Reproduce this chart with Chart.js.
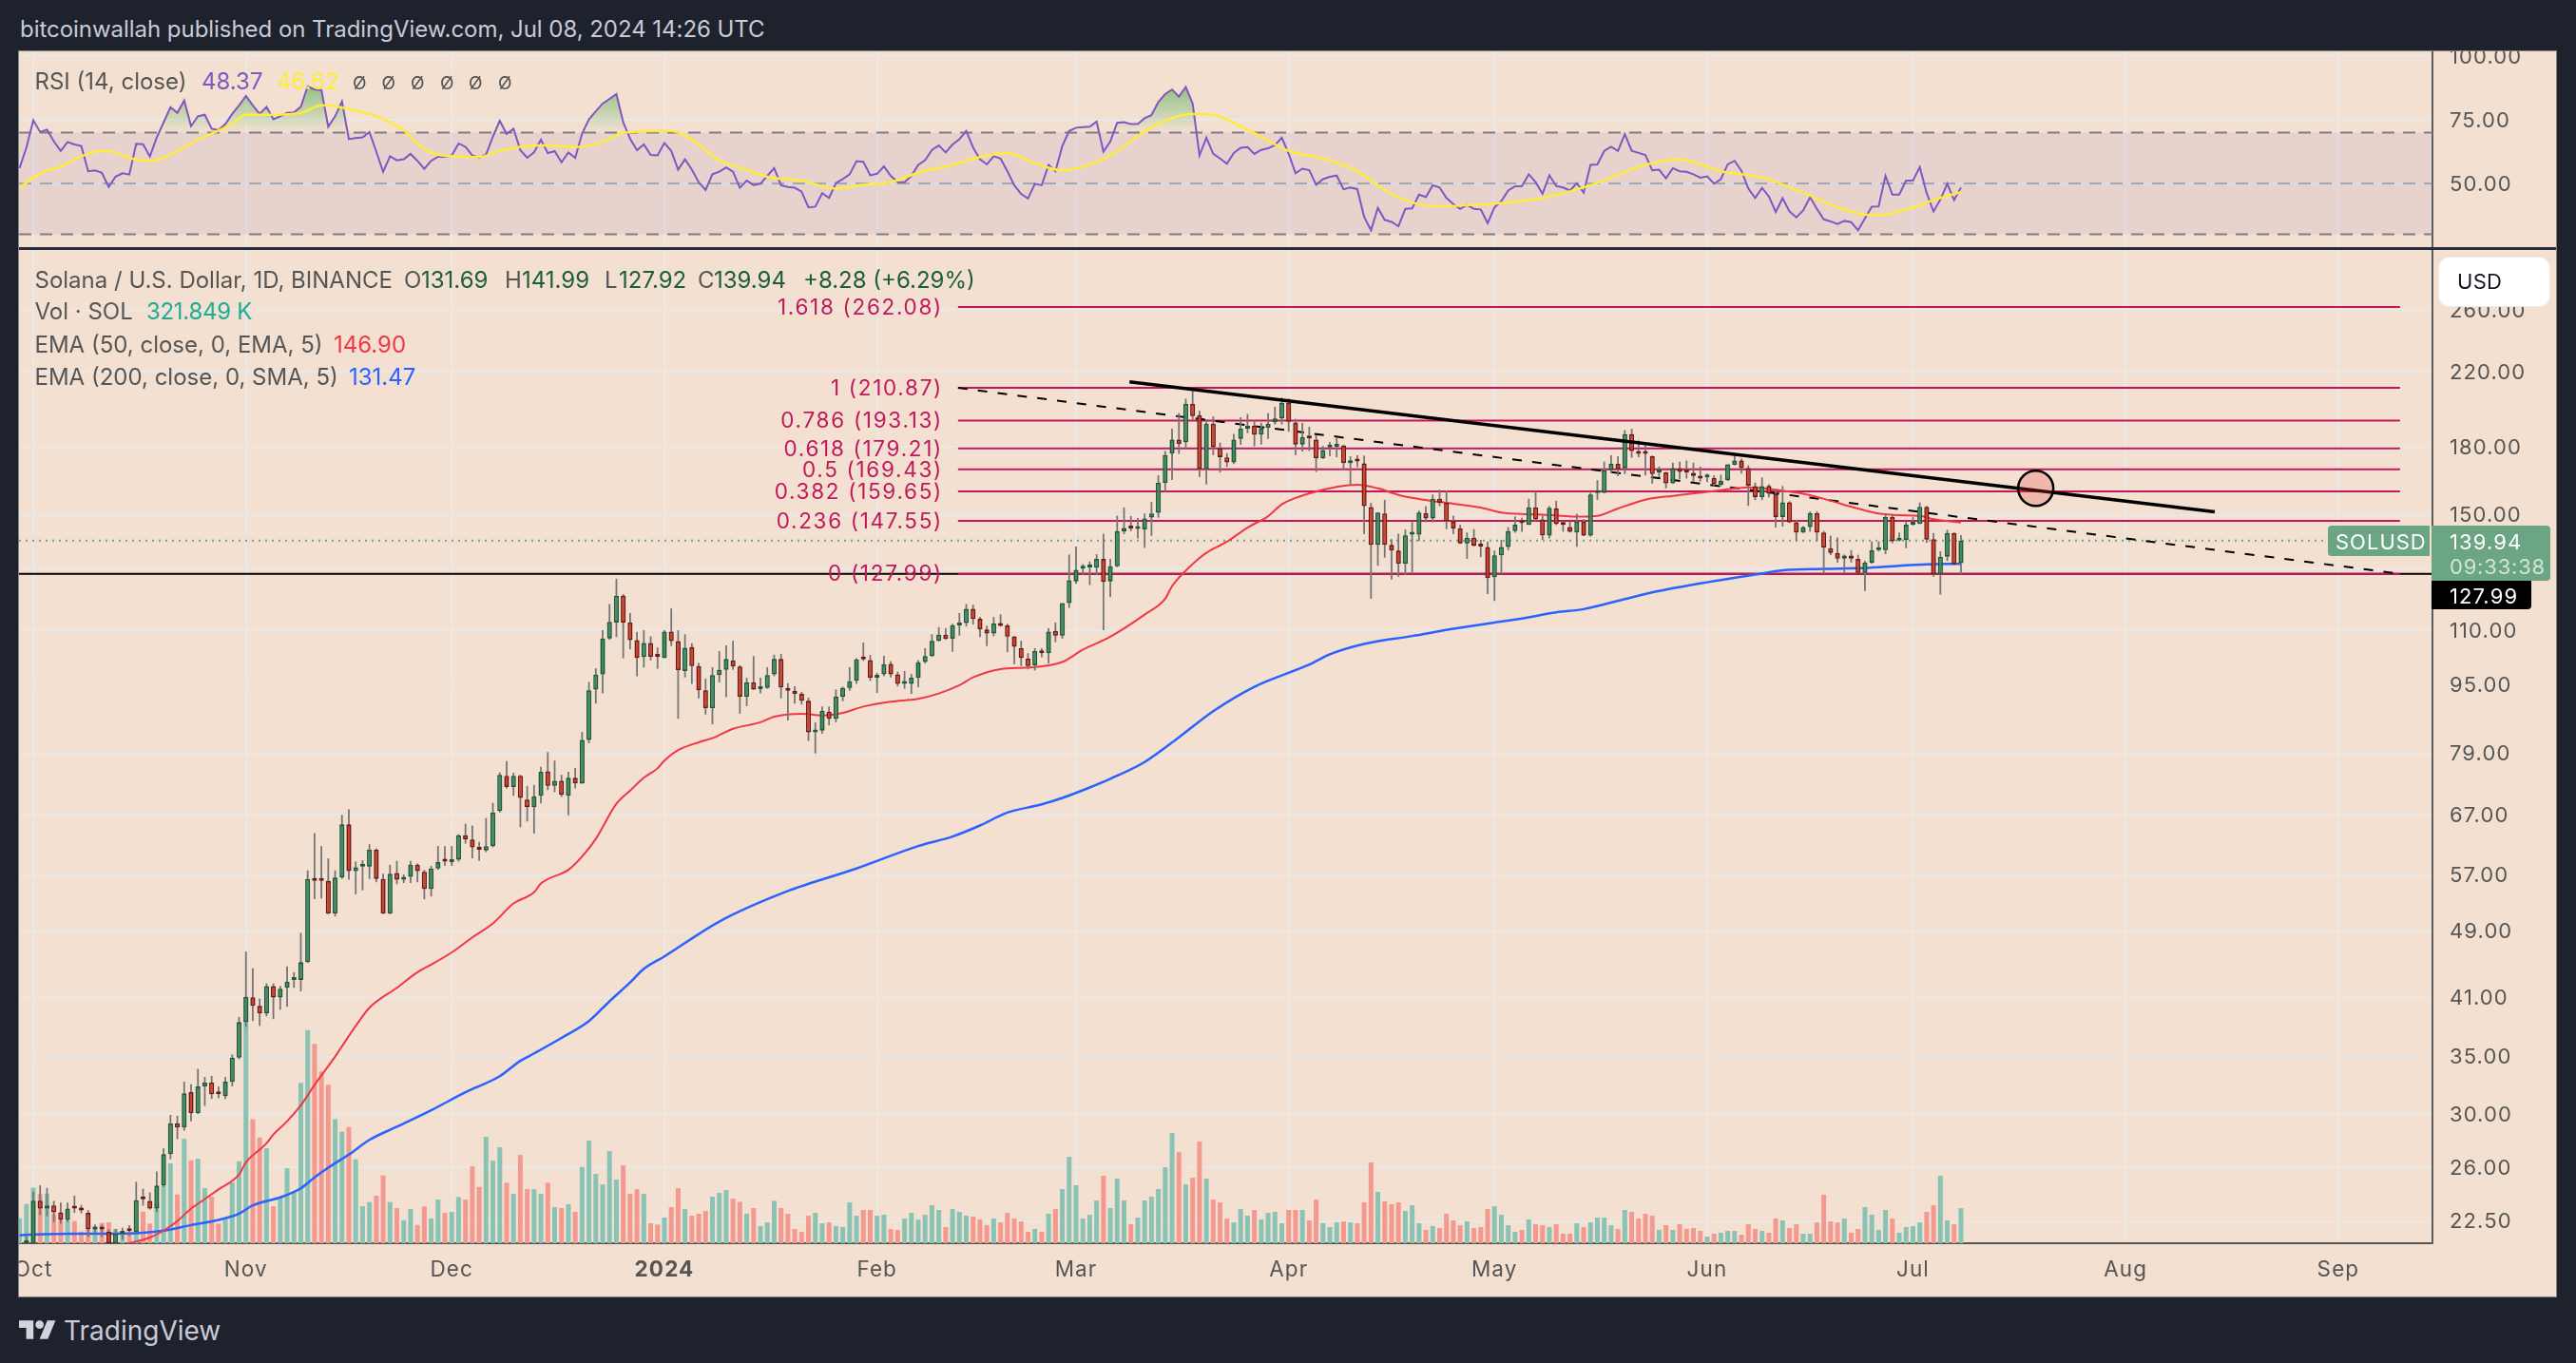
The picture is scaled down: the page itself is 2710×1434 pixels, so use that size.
<!DOCTYPE html>
<html><head><meta charset="utf-8">
<script src="https://cdn.jsdelivr.net/npm/chart.js@4"></script>
<style>
html,body{margin:0;padding:0;background:#1e222d;width:2710px;height:1434px;overflow:hidden}
#panel{position:absolute;left:20px;top:54px;width:2669px;height:1310px;background:#f3e0d0}
#frame{position:absolute;left:19px;top:53px;width:2669px;height:1310px;border:1px solid #85837f;pointer-events:none}
canvas{position:absolute;left:20px}
#sep{position:absolute;left:20px;top:260px;width:2669px;height:3px;background:#2a2e39}
.t{position:absolute;white-space:pre;transform:translateY(-50%);font-family:Inter,sans-serif;line-height:1}
.box{position:absolute}
</style></head><body>
<div id="panel"></div>
<canvas id="rsiChart" width="2669" height="208" style="top:54px;width:2669px;height:208px"></canvas>
<canvas id="mainChart" width="2669" height="1101" style="top:263px;width:2669px;height:1101px"></canvas>
<div id="sep"></div><div id="frame"></div>
<div id="overlay"></div>
<script>
// Day index 0 = 1 Oct 2023; first candle sits two days earlier.
const firstDay = -2;
const monthDays = [0,31,61,92,123,152,183,213,244,274,305,336];
const monthLabels = ['Oct','Nov','Dec','2024','Feb','Mar','Apr','May','Jun','Jul','Aug','Sep'];
const priceTicks = [260,220,180,150,130,110,95,79,67,57,49,41,35,30,26,22.5];
const rsiTicks = [100,75,50];
const fibRatios = ['1.618','1','0.786','0.618','0.5','0.382','0.236','0'];
const fibValues = [262.08,210.87,193.13,179.21,169.43,159.65,147.55,127.99];
const opens = [
20.5,21.15,21.2,23.77,23.27,23.47,23.04,22.57,23.36,23.2,
23,22,22.08,21.86,21.2,21.75,21.98,21.84,23.95,23.75,
23.27,24.75,26.93,29.25,28.92,31.82,30.05,32.3,32.64,31.75,
31.47,32.7,34.9,38.4,41.05,40.1,39.3,42.3,41,42.1,
43,43,45.1,56.4,56.2,56.1,51.4,56.6,65.3,57.6,
58.3,58.3,61,56.4,51.4,57.3,56.3,56.7,58.6,57.5,
54.9,58,59.2,59,59.4,63.4,62.7,61.2,60.9,61.6,
67.7,74.4,72.2,74.4,69.8,68.4,70.5,75.3,72.4,73.4,
70.5,74,72.9,81.9,93.8,97.7,107.6,112.3,120.7,112.3,
107.1,102.4,106.3,102.6,102.1,109.6,106.8,98.6,105.1,99.9,
93.6,89.2,97.5,98.9,101.4,99.8,92,95.6,93.9,94.2,
97.7,101.8,94.2,93.5,92.7,91,83.6,84,88.4,86.7,
92,94.2,96,102,101.5,96.8,97.7,100.5,97.7,95.2,
95.2,96.8,101,102.6,106.9,108.7,107.5,111.4,112.1,116.5,
113.4,110.2,109,111.9,111.4,108.2,104.8,101.9,100.1,104.1,
103.4,109.8,108.4,118.3,125.4,129.8,130.2,130.1,133.2,125.4,
130.6,143.4,145.1,144.4,144.2,148.9,150.8,163.4,176.7,183.5,
182.2,202,195.9,169.6,191.6,179.4,175,172.6,183.9,189,
190.5,186,189.5,192.3,194.3,202.6,192.1,181.1,185,183.5,
174.6,179.7,180,180.6,172.3,173.6,172.2,153.1,138.3,150.5,
138.3,136.2,131.5,142.2,142.2,150.6,148.5,156.6,154.9,147.4,
144.6,138.9,141,138.2,137.5,126.8,134.5,137.5,143.5,147.1,
146,153,148.1,141.8,152.6,146.3,145.1,143,147.3,141.8,
159,159.1,169.1,172,169.9,186.2,178,176.9,175.5,168,
168,163.2,169.9,168.8,167.8,166.4,165.8,165.5,162.6,164.6,
171.5,173.5,170,161.9,157.3,162,158.7,149.1,155.1,147,
143,145.1,150.6,143,137.1,135.3,133.3,134.4,133.2,128.3,
131.9,136.4,136.4,149.1,139.9,140.2,146,146.3,153.2,140.5,
127.8,134,142.8,131.69];
const highs = [
21,21.7,24.35,24.77,24.6,23.75,23.65,23.65,24.09,23.5,
23.17,22.3,22.27,22,22.03,22.1,22.25,25,24.55,24.3,
25.7,27.36,29.93,29.85,32.72,32.5,33.86,33.14,33.23,32.3,
33.14,35.2,38.95,46.4,44.4,40.9,42.6,42.6,42.3,44.6,
43.9,48.8,57.7,63.8,61.6,59.6,57.7,67,68,59.1,
59.3,61.9,61.2,57.2,58.6,59.2,57.1,59.2,58.8,57.8,
58.4,61.6,61.6,61.6,63.6,65.4,65.1,62.3,66.4,69.2,
75.1,77.4,75,74.6,72.4,72.6,76.2,79.3,77.5,74.6,
75.2,76,83.7,95.7,99.3,110,118,126.3,121.2,115.2,
109.5,110,108.2,105,110,116.6,110,108.8,106.2,100.7,
96.6,99.6,104,105.6,106.9,100.1,96.8,102.6,96.8,99.6,
103,103.2,95.4,94.6,93.2,91.8,85.9,89.6,89.6,93.8,
94.5,99.6,102,106.4,102.9,98.1,102.7,101.2,98.4,98.6,
97.8,101.5,104.8,108.8,110.9,110.6,111.9,115.2,118,117.8,
114,111.3,114,114.8,111.9,108.2,106.9,103.4,104.8,104.8,
110.6,112.3,118.3,134.8,137.7,131.4,132.3,134.9,142.5,133.2,
149.6,153,149.5,148.7,150.5,155.2,166.8,178,189,197.1,
204.8,209.9,198.3,193.7,195.3,182,177,186.3,194.9,196.6,
193.1,192,197.1,200.5,205.5,205,194,192,190,185.6,
180.4,182.4,184.7,181,175.5,176,175.8,154.8,150.9,156.1,
140.5,142.5,144.2,147.4,151.7,153.5,158.4,160.4,160,149.6,
146,143,144.3,140.2,139.6,136.2,140.2,145.1,149.3,148.8,
156.6,159.7,149.6,153.5,155.7,147.5,147.3,150.4,148.2,159.1,
164.6,173,175.9,175.5,188.3,188.9,183.1,180.7,175.8,170.7,
168.3,172.5,173,173.5,172.5,170.7,167.5,166.7,167,171.7,
175.8,174.4,171.3,163.5,165.8,162.8,160.5,162,155.5,148,
145.5,151.3,151.4,143.6,141.8,141.1,134.8,136.4,134.7,132.5,
139.6,139.7,150.6,150,143,147.3,149.1,155,153.6,142.8,
135.9,144,143,141.99];
const lows = [
20.3,20.9,21,22.87,22.8,22.44,22.34,22.45,23,22.97,
21.56,21.7,21.56,21,21,21.4,21.62,21.8,23.45,23.2,
23.05,24.65,26.56,28.03,28.68,29.42,30,30.65,31.23,31.3,
31.23,32.3,34.75,37.9,38.5,38,39,38.7,39.7,40,
42.1,41.7,45,53.4,53.5,51.3,51,56.4,56.3,54.1,
54.7,56.4,55.9,51.3,51.3,55.6,55.8,55.8,55.9,53.4,
53.8,57.8,58.4,58.4,59.1,62,59.6,59.2,60.6,61.4,
67.4,71.9,70.5,64.8,65.8,63.7,69.1,71.6,71.2,70.3,
66.9,71.9,72.8,81.2,90.3,92.8,107.2,108,102,104.5,
97.2,99.5,101.4,99.2,102,105.4,86.7,96.9,95.2,91.6,
87.7,85.4,95.6,91.9,98.9,87.9,89.7,93.7,92.8,94,
97.2,91.6,86.3,90.3,90.1,81.7,79,83.3,85.2,85.9,
90.9,93.5,95.2,101.3,96,92.9,97.2,96.9,94.6,94,
92.7,94.4,100.6,102.4,106.7,107.2,103.8,108.4,111.1,111.7,
108,105.4,108.2,111.1,103.7,100.4,99.9,99,98.7,102.3,
100.6,106.5,107.5,116.8,124.6,127.6,124.2,127.5,110,120.2,
130.3,142.4,143.5,140.7,137.2,141.7,148.8,159.6,164.7,176.6,
178.7,193.7,166,162.7,176,168,170.6,171.9,180.9,186.7,
180.2,181.1,183.9,191.1,191.1,187.4,176.1,177.7,178,168.2,
174.2,175.5,175,169,162.5,170.4,142.4,119.7,130.8,133.7,
126,127,127.6,128.4,139.8,147,147,153.5,144.3,142.4,
138.7,133.2,137.7,133.8,121.2,119,127.9,136.3,142.9,143.3,
145.9,147.4,140.2,140.7,145.9,143.3,143,137.6,141.6,141.4,
156.1,158.9,167.6,166.4,167.3,174.8,175,166.7,163,165.9,
161,163,165,165.3,163.7,164,163.7,162,161.9,164.2,
171.3,167.5,153.6,156,156,157.2,144.9,145.3,146.7,139.7,
142.8,143.3,139.7,128,134.6,131.9,128.4,131.9,128.2,122.2,
131.5,135.9,134.9,138.9,139.7,137.1,145.7,146.3,139.1,127,
121,132.5,131.1,127.92];
const closes = [
20.8,21.25,23.77,23.27,23.47,23.04,22.57,23.27,23.27,23.15,
22,22.08,22,21.2,21.75,21.9,21.9,23.8,23.85,23.27,
24.75,26.93,29.25,28.92,31.71,30.05,32.3,32.64,31.63,31.63,
32.72,34.9,38.4,41.1,40.1,39.3,42.3,41,42,42.8,
43.1,45.1,56.4,56.1,56.1,51.4,56.6,65.3,57.6,58.2,
58.4,61,56.4,51.4,57.2,56.3,56.7,58.6,57.6,54.9,
58,59,59.1,59.4,63.4,62.7,61.4,61,61.6,67.4,
74.6,72.2,74.4,70.1,68.4,70.4,75.2,72.4,73.4,70.7,
74,72.9,81.9,93.6,97.6,107.6,112.5,120.7,112.3,107.1,
102.1,106.3,102.4,102.4,109.6,106.8,98.8,104.9,99.9,93.6,
89.2,97.5,98.9,101.8,99.8,92,95.6,93.8,94.2,97.5,
101.8,94.3,93.5,92.7,91,83.6,84,88.6,86.7,92,
94.2,95.9,101.7,101.7,96.8,97.5,100.4,97.7,95.2,95.4,
96.8,100.9,102.6,106.9,108.7,107.5,111.5,112.3,116.5,113.4,
110.2,109,112,111.3,108.1,105.2,102.1,99.9,104,103.4,
109.6,108.4,118.3,125.8,129.4,130,130.5,133.2,125.2,130.6,
143.5,144.7,144.6,144.6,148.5,150.5,163.4,176.1,183.5,181.4,
202,195.5,169.6,191.6,179.8,175.1,172.6,183.5,189,190.5,
186,189.3,191.6,194.2,202.6,192.5,181.1,184.7,184.1,174.6,
178.4,180,180.6,172.3,173.1,173.1,153.5,138.3,150.9,138.3,
136.2,131.5,141.9,142.7,150.9,148.5,156.6,154.9,147.4,144.6,
138.9,141,138.1,137.7,126.5,134.5,137.5,143.5,146,146.7,
153,148.1,141.9,152.8,146.3,145.9,143.3,147.3,141.8,158.4,
159.5,169.1,172,169.6,186.2,178,176.6,176.6,167.3,168.7,
163.2,170,168.3,168,166.4,165.3,166,162.8,164.3,171.7,
173.5,170,162.2,157.3,161.9,158.7,149.1,155.1,147,143,
145.1,150.6,143,137.3,135.4,133.3,134.4,133.3,128.3,131.9,
136.3,136.8,149.1,139.7,140.3,146,146.4,153.2,140.3,127.8,
134,142.8,131.3,139.94];
const volumesK = [
229,360,508,450,455,267,209,209,203,107,
122,151,186,194,131,93,99,116,290,180,
363,528,731,447,957,760,774,505,426,180,
223,557,751,2248,1137,969,870,339,418,687,
476,1470,1952,1827,1575,1453,1137,1021,1064,769,
339,377,435,621,377,322,212,313,168,336,
226,400,278,287,423,400,705,516,974,757,
879,554,452,809,496,496,452,554,331,322,
357,287,699,940,635,539,844,583,713,452,
496,452,183,171,235,331,505,313,252,270,
296,426,461,487,409,380,270,322,157,191,
389,322,270,131,104,252,278,183,191,157,
148,374,252,305,305,252,261,131,122,226,
278,218,261,348,305,148,313,287,252,244,
218,165,226,191,278,226,200,104,131,104,
270,313,496,792,531,226,261,392,618,322,
592,392,174,235,392,426,496,696,1009,835,
539,600,931,592,400,374,226,191,313,252,
305,218,278,287,183,305,305,305,209,400,
183,148,191,200,191,183,374,740,470,383,
357,374,296,348,183,122,157,139,270,209,
165,200,139,148,313,339,261,165,104,122,
218,174,165,148,174,87,87,183,148,191,
235,235,165,131,305,287,226,270,252,122,
165,122,174,131,139,113,61,87,96,113,
113,78,174,131,113,96,226,209,139,174,
87,87,191,444,200,191,226,96,131,331,
261,122,305,226,96,148,157,191,287,348,
618,209,174,321.849];
const rsiValues = [
56,64.1,74.8,70.2,71.1,66.5,62.8,66.3,65.3,64.7,
54.8,55.1,54.2,48.6,52.7,54,53.5,65.6,65.4,60.6,
68.1,74,79.9,77.7,82.6,72.5,76.4,77,71.5,70.9,
73.3,77.3,80.7,84.4,80.7,77.3,80.1,75.2,76.4,77.7,
77.9,80.1,88.1,86.9,86.7,72.3,76.4,82.2,67.4,67.8,
68.1,70.2,62.5,54.6,60.7,59.1,59.5,61.6,58.9,55.7,
58.9,60.5,60.5,61,65.7,64.4,61,60.1,61.4,68.4,
74.6,69.4,71.5,63.1,60.1,62.2,67.2,61.9,62.7,58.3,
62.2,60.1,69.6,75.2,78.3,81.4,83.2,85.1,74,67.5,
63.1,65.3,61.2,61,65.9,62.8,55.4,59.5,55.4,50.5,
47.4,53.6,54.6,56.3,54.6,48.3,51.1,49.4,49.9,53,
56,49.3,48.6,48.3,46.8,40.6,40.9,46.2,44.3,50.1,
51.7,53.6,58.8,58.5,53.2,53.8,56.7,53,50.5,50.5,
53,57.3,59.1,63.2,64.9,62.2,65.3,67.4,70.6,64.1,
59.5,57.5,60.7,59.8,54.8,49.3,45.9,44.1,49.9,49.3,
57.3,54.8,64.7,70.6,71.9,72.1,72.3,74.3,62.5,66.5,
73.8,74.1,73.3,73.3,75.6,76.8,82,85.1,86.9,84.1,
87.9,81.4,61,68,61.6,59.8,57.7,62,64,64.3,
61.6,63.2,63.8,65.1,68,61.6,54,55.8,55.2,49.5,
51.7,52.6,53.1,47.7,48.4,47.8,36.9,31.6,40.4,35.7,
34.9,33.2,40,40.2,45.6,44.7,49.3,48.4,44.3,41.9,
40,41.6,40,39.8,34.4,40.6,43.1,47.2,48.9,49,
53.6,50.5,45.9,53.2,49,48.4,47.2,50.1,46.4,57.3,
57.5,62.8,64.4,62.8,69.4,62.8,62,61.2,55.2,55.4,
52,56,54.8,54.6,53.6,52.3,52.8,49.9,51.7,57.5,
58.9,55,48,44.3,48.3,44.9,38.8,44.2,39,36.7,
39.4,44.6,40,35.9,35.1,34.1,35.3,34.8,31.6,36.3,
40.9,41,53,45.6,45.6,51.1,51.1,56.4,46.2,39,
43.7,49.9,43.5,48.37];
const rsiMaDays = [-2,0,2,4,7,10,12,14,17,20,23,26,29,31,35,39,42,45,50,54,56,59,65,68,71,75,79,83,86,93,96,100,104,107,112,117,121,125,129,134,138,142,146,150,157,163,169,171,177,183,189,193,197,201,206,209,212,220,227,235,240,246,252,258,263,267,269,274,277,281];
const rsiMaValues = [48.3,52.3,55.1,56.7,60.7,62.8,62.2,60,58.9,61.2,65.9,69.6,73.3,77,77,77.7,80.7,79.8,76.4,70.9,65.6,61.2,60.4,62.8,64.4,64.9,64.3,66.2,69.9,70.6,67.2,59.1,55.4,52.6,51.1,48,49.5,50.5,54.2,57.3,60.4,62,57.9,55.2,61,72.1,77.3,77.3,71.1,62.8,59.1,54.8,47.4,42.5,41,41.5,41.9,44.3,49.3,57.3,59.4,54.8,52.3,46.4,40.6,37.8,37.5,40.6,43.5,46.62];
const ema50Days = [13,15,17,19,21,23,25,27,30,31,34,35,37,39,41,44,47,49,53,56,58,61,64,67,70,73,74,78,80,82,85,87,89,91,92,94,97,99,102,106,108,112,115,118,121,125,129,132,135,137,141,145,150,153,157,162,165,166,169,171,174,177,180,182,184,187,190,193,196,199,202,207,211,214,218,220,226,228,231,235,239,244,248,250,255,259,262,266,269,272,275,277,281];
const ema50Values = [21.1,21.3,21.53,21.93,22.5,23.27,23.87,24.5,25.5,26.34,27.72,28.39,29.42,30.7,32.44,35,38,39.9,42.1,43.9,44.8,46.3,48.2,50.05,52.8,54.4,55.7,57.8,59.9,62.8,69,71.5,74,75.9,77.5,79.7,81.4,82.3,84.4,85.9,87.2,87.9,87.5,88.1,89.6,90.8,91.5,92.8,94.9,96.9,99.1,99.5,101,104.4,108.1,114.7,119.7,123.8,131.4,135.4,139.5,144.9,149.4,154.2,156.9,159.6,161.6,162.6,161,158.2,156.5,154.5,152.9,150.9,150.2,150,149.2,149.5,152.5,156.2,157.8,159.5,160.9,161.4,160,158.1,155.7,152.5,150.5,149.8,149.5,148.2,146.9];
const ema200Days = [-2,0,6,11,16,19,23,27,30,32,36,39,41,43,46,49,53,58,63,68,71,73,77,81,84,87,89,92,100,110,120,129,134,138,142,147,150,154,157,162,167,172,178,186,189,194,201,207,213,217,222,226,232,237,244,251,255,261,267,272,276,281];
const ema200Values = [21.66,21.7,21.75,21.75,21.8,21.93,22.26,22.57,22.95,23.47,23.98,24.57,25.3,25.97,26.9,27.98,28.99,30.3,31.8,33.2,34.6,35.3,36.8,38.5,40.6,42.7,44.3,45.8,50.3,54.6,58,61.6,63.2,65.1,67.4,68.9,70.1,72.1,73.8,77.2,82.5,88.5,94.5,100.3,103.1,106,108.3,110.4,112.3,113.5,115.4,116.4,119.6,122.2,125.1,127.7,129.2,129.7,130,130.8,131.3,131.47];
const trendSolidDays = [159.8,318];
const trendSolidValues = [214.3,151.2];
const trendDashDays = [134.8,345];
const trendDashValues = [210.87,127.99];
const calloutDay = 291.9, calloutValue = 161;
const lastPrice = 139.94, supportPrice = 127.99;

const FONT = 'Inter, sans-serif';
const X_MIN = -2.08, X_MAX = 349.73;
const GRID = '#e9e8e9', AXIS_TXT = '#555555';
const days = opens.map((_, k) => firstDay + k);
const pts = (xs, ys) => xs.map((x, k) => ({x, y: ys[k]}));
const isUp = k => closes[k] >= opens[k];
const spacing = {id: 'spacing', beforeDraw(c) { c.ctx.letterSpacing = '1.1px'; }};

function xAxis(showLabels) {
  return {
    type: 'linear', min: X_MIN, max: X_MAX, offset: false, bounds: 'data',
    grid: {color: GRID, lineWidth: 2, drawTicks: false, offset: false},
    border: showLabels ? {display: true, color: '#555555', width: 2} : {display: false},
    ticks: {
      display: showLabels, autoSkip: false, maxRotation: 0, minRotation: 0, padding: 15,
      color: AXIS_TXT,
      font: c => ({family: FONT, size: 22.5, weight: c.tick && c.tick.label === '2024' ? '700' : '400'}),
      callback: v => monthLabels[monthDays.indexOf(v)]
    },
    afterBuildTicks: s => { s.ticks = monthDays.map(value => ({value})); },
    afterFit: s => { s.height = showLabels ? 56 : 0; s.paddingLeft = 0; s.paddingRight = 0; }
  };
}
function yAxis(type, min, max, tickValues) {
  return {
    type, min, max, position: 'right', bounds: 'data',
    grid: {color: GRID, lineWidth: 2, drawTicks: false},
    border: {display: true, color: '#5d5d5d', width: 2},
    ticks: {
      autoSkip: false, padding: 18, crossAlign: 'near', color: AXIS_TXT, labelOffset: 1,
      font: {family: FONT, size: 22},
      callback: v => Number(v).toFixed(2)
    },
    afterBuildTicks: s => { s.ticks = tickValues.map(value => ({value})); },
    afterFit: s => { s.width = 130; s.paddingTop = 0; s.paddingBottom = 0; }
  };
}
const baseOpts = {
  responsive: false, animation: false, events: [],
  layout: {padding: 0, autoPadding: false},
  plugins: {legend: {display: false}, tooltip: {enabled: false}}
};
const flat = (y, color, width, dash, extra) => Object.assign({
  type: 'line', data: [{x: X_MIN, y}, {x: X_MAX, y}],
  borderColor: color, borderWidth: width, borderDash: dash || [], pointRadius: 0, fill: false
}, extra || {});

/* RSI pane */
const rsiCanvas = document.getElementById('rsiChart');
const obGrad = rsiCanvas.getContext('2d').createLinearGradient(0, 5, 0, 85);
obGrad.addColorStop(0, 'rgba(76,175,80,1)');
obGrad.addColorStop(1, 'rgba(76,175,80,0)');
new Chart(rsiCanvas, {
  type: 'line',
  data: {datasets: [
    {data: pts(days, rsiValues), label: 'RSI', borderColor: '#7e57c2', borderWidth: 2,
     pointRadius: 0, tension: 0, order: 2,
     fill: {target: {value: 70}, above: obGrad, below: 'rgba(0,0,0,0)'}},
    {data: pts(rsiMaDays, rsiMaValues), label: 'RSI MA', borderColor: '#ffeb3b', borderWidth: 2.5,
     pointRadius: 0, cubicInterpolationMode: 'monotone', fill: false, order: 1},
    flat(70, '#7c7e88', 2, [13, 9], {order: 5, fill: {target: {value: 30}}, backgroundColor: 'rgba(126,87,194,0.10)'}),
    flat(50, 'rgba(120,123,134,0.55)', 2, [13, 9], {order: 4}),
    flat(30, '#7c7e88', 2, [13, 9], {order: 4})
  ]},
  options: Object.assign({}, baseOpts, {scales: {x: xAxis(false), y: yAxis('linear', 24.25, 101.9, rsiTicks)}}),
  plugins: [spacing]
});

/* Main pane */
const wick = '#757575';
const fibDatasets = fibValues.map(v => ({
  type: 'line', data: [{x: 134.8, y: v}, {x: 345, y: v}],
  borderColor: '#c2185b', borderWidth: 2, pointRadius: 0, fill: false, order: 80
}));
const fibLabelPlugin = {
  id: 'fibLabels',
  afterDatasetsDraw(c) {
    const ctx = c.ctx, s = c.scales.y;
    ctx.save();
    ctx.font = '22.5px ' + FONT; ctx.fillStyle = '#c2185b'; ctx.letterSpacing = '1.7px';
    ctx.textAlign = 'right'; ctx.textBaseline = 'middle';
    fibValues.forEach((v, k) => ctx.fillText(fibRatios[k] + ' (' + v.toFixed(2) + ')', 972, s.getPixelForValue(v) + 1));
    ctx.restore();
  }
};
new Chart(document.getElementById('mainChart'), {
  type: 'bar',
  data: {datasets: [
    {type: 'bar', yAxisID: 'yVol', order: 100, grouped: false, maxBarThickness: 5, borderWidth: 0,
     data: pts(days, volumesK),
     backgroundColor: days.map((_, k) => isUp(k) ? '#8ac3b4' : '#f3998f')},
    flat(supportPrice, '#000000', 2, [], {order: 90}),
    ...fibDatasets,
    {type: 'line', order: 75, data: [{x: X_MIN, y: lastPrice}, {x: 334.5, y: lastPrice}],
     borderColor: '#6ba583', borderWidth: 2, borderDash: [2, 5], pointRadius: 0, fill: false},
    {type: 'line', order: 72, data: pts(trendDashDays, trendDashValues),
     borderColor: '#000000', borderWidth: 2, borderDash: [10, 11], pointRadius: 0, fill: false},
    {type: 'line', order: 70, data: pts(ema200Days, ema200Values), borderColor: '#2962ff', borderWidth: 2.5,
     pointRadius: 0, cubicInterpolationMode: 'monotone', fill: false},
    {type: 'line', order: 69, data: pts(ema50Days, ema50Values), borderColor: '#f23645', borderWidth: 2,
     pointRadius: 0, cubicInterpolationMode: 'monotone', fill: false},
    {type: 'bar', order: 60, grouped: false, maxBarThickness: 1.8, borderWidth: 0, backgroundColor: wick,
     data: days.map((d, k) => ({x: d, y: [lows[k], highs[k]]}))},
    {type: 'bar', order: 50, grouped: false, maxBarThickness: 6, borderWidth: 1.6, borderSkipped: false, minBarLength: 3,
     data: days.map((d, k) => ({x: d, y: [opens[k], closes[k]]})),
     backgroundColor: days.map((_, k) => isUp(k) ? '#3f8a60' : '#d2402c'),
     borderColor: days.map((_, k) => isUp(k) ? '#1d5a3a' : '#6d1a14')},
    {type: 'line', order: 40, data: pts(trendSolidDays, trendSolidValues), borderColor: '#000000', borderWidth: 3.5,
     pointRadius: 0, fill: false},
    {type: 'line', order: 30, showLine: false, data: [{x: calloutDay, y: calloutValue}], pointRadius: 18.5,
     pointBackgroundColor: 'rgba(229,57,53,0.24)', pointBorderColor: '#000000', pointBorderWidth: 2.5}
  ]},
  options: Object.assign({}, baseOpts, {scales: {
    x: xAxis(true),
    y: yAxis('logarithmic', 21.2, 305.4, priceTicks),
    yVol: {type: 'linear', display: false, position: 'right', min: 0, max: 9100, bounds: 'data',
           grid: {display: false}, afterFit: s => { s.width = 0; }}
  }}),
  plugins: [spacing, fibLabelPlugin]
});

/* Text and tags */
const ov = document.getElementById('overlay');
function txt(x, y, s, color, size, spacingPx) {
  const e = document.createElement('div');
  e.className = 't'; e.textContent = s;
  e.style.cssText = `left:${x}px;top:${y}px;color:${color};font-size:${size}px;letter-spacing:${spacingPx || 0}px`;
  ov.appendChild(e);
}
function box(x, y, w, h, bg, radius, extra) {
  const e = document.createElement('div');
  e.className = 'box';
  e.style.cssText = `left:${x}px;top:${y}px;width:${w}px;height:${h}px;background:${bg};border-radius:${radius};${extra || ''}`;
  ov.appendChild(e);
}
const G = '#555555';
txt(21, 31, 'bitcoinwallah published on TradingView.com, Jul 08, 2024 14:26 UTC', '#c8cbd6', 24, -0.04);
txt(36.5, 86, 'RSI (14, close)', G, 24);
txt(212, 86, '48.37', '#7e57c2', 24);
txt(291, 86, '46.62', '#ffeb3b', 24);
[371, 401.5, 432, 463, 493, 524].forEach(x => txt(x, 87, 'Ø', G, 19));
txt(36.5, 295, 'Solana / U.S. Dollar, 1D, BINANCE', G, 24);
const DG = '#1b5e3a';
txt(425, 295, 'O', G, 24); txt(443, 295, '131.69', DG, 24);
txt(531, 295, 'H', G, 24); txt(549, 295, '141.99', DG, 24);
txt(636, 295, 'L', G, 24); txt(651, 295, '127.92', DG, 24);
txt(734, 295, 'C', G, 24); txt(751, 295, '139.94', DG, 24);
txt(845, 295, '+8.28 (+6.29%)', DG, 24);
txt(36.5, 328, 'Vol · SOL', G, 24);
txt(154, 328, '321.849 K', '#22ab94', 24, -0.3);
txt(36.5, 363, 'EMA (50, close, 0, EMA, 5)', G, 24);
txt(351, 363, '146.90', '#f23645', 24);
txt(36.5, 397, 'EMA (200, close, 0, SMA, 5)', G, 24);
txt(367, 397, '131.47', '#2962ff', 24);

box(2566, 271, 116, 51, '#ffffff', '10px', 'box-shadow:0 0 0 1px #ece9e6');
txt(2585, 296, 'USD', '#131722', 22, 0.3);
box(2449, 553, 107, 32, '#6ba583', '4px 0 0 4px');
txt(2457, 570, 'SOLUSD', '#ffffff', 22, 1);
box(2558, 553, 125, 58, '#6ba583', '0 4px 4px 0');
txt(2577, 570, '139.94', '#ffffff', 22, 1.1);
txt(2577, 596, '09:33:38', 'rgba(255,255,255,0.7)', 22, 0.8);
box(2558, 611, 105, 30, '#000000', '0 0 4px 0');
txt(2577, 627, '127.99', '#ffffff', 22, 1.1);

ov.insertAdjacentHTML('beforeend', `<svg style="position:absolute;left:20px;top:1384.7px" width="39" height="30.3" viewBox="0 0 36 28" fill="#d1d4dc"><path d="M14 22H7V11H0V4h14v18zM28 22h-8l7.5-18h8L28 22z"/><circle cx="20" cy="8" r="4"/></svg>`);
txt(67, 1400, 'TradingView', '#c8cbd6', 28);
</script>
</body></html>
